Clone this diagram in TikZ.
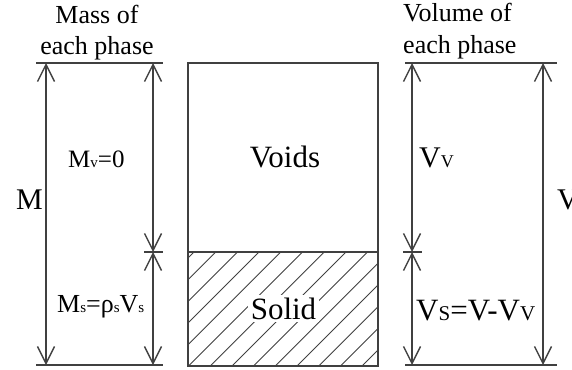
\documentclass[tikz,border=0pt]{standalone}
\usepackage{fontspec}
\setmainfont{Liberation Serif}
\usetikzlibrary{arrows.meta}
\definecolor{lc}{HTML}{404040}
\begin{document}
\begin{tikzpicture}[x=1pt,y=-1pt]
\useasboundingbox (0,0) rectangle (572,369);
\tikzset{
  ln/.style={draw=lc, line width=1.6pt},
  dimln/.style={draw=lc, line width=1.4pt, {Straight Barb[length=17pt,width=17pt]}-{Straight Barb[length=17pt,width=17pt]}},
  hatch/.style={draw=lc, line width=0.9pt},
  lbl/.style={inner sep=0pt, text=black},
  fa/.style={font=\fontsize{26}{30}\selectfont},
  fb/.style={font=\fontsize{31}{36}\selectfont},
}
% ---------- Mass column ----------
\coordinate (mTL) at (36,63);  \coordinate (mTR) at (163,63);
\coordinate (mBL) at (36,365); \coordinate (mBR) at (163,365);
\coordinate (mA1) at (46,63);  \coordinate (mA2) at (46,365);
\coordinate (mB1) at (153,63); \coordinate (mB2) at (153,252); \coordinate (mB3) at (153,365);
\coordinate (mK1) at (144,252); \coordinate (mK2) at (163,252);
\draw[ln] (mTL) -- (mTR);
\draw[ln] (mBL) -- (mBR);
\draw[ln] (mK1) -- (mK2);
\draw[dimln] (mA1) -- (mA2);
\draw[dimln] (mB1) -- (mB2);
\draw[dimln] (mB2) -- (mB3);
\node[lbl, fa, anchor=base] (mt1) at (97,24) {Mass of};
\node[lbl, fa, anchor=base] (mt2) at (97,55) {each phase};
\node[lbl, font=\fontsize{30}{34}\selectfont, anchor=base east] (mM) at (43,209) {M};
\node[lbl, font=\fontsize{25}{30}\selectfont, anchor=base west] (mMv) at (68,167) {M{\fontsize{15}{18}\selectfont v}=0};
\node[lbl, font=\fontsize{26}{30}\selectfont, anchor=base west] (mMs) at (57,312) {M{\fontsize{15}{18}\selectfont s}=ρ{\fontsize{15}{18}\selectfont s}V{\fontsize{15}{18}\selectfont s}};
% ---------- Phase diagram ----------
\coordinate (rTL) at (188,63);  \coordinate (rBR) at (378,366);
\coordinate (rML) at (188,252); \coordinate (rMR) at (378,252);
\begin{scope}
  \clip (rML) rectangle (rBR);
  \foreach \i in {0,...,14} {
    \draw[hatch] (80+\i*21.7,366) -- ++(114,-114);
  }
\end{scope}
\draw[ln, line width=1.8pt] (rTL) rectangle (rBR);
\draw[ln, line width=1.8pt] (rML) -- (rMR);
\node[lbl, fb, anchor=base] (voids) at (285,167) {Voids};
\node[lbl, fb, anchor=base, fill=white, inner sep=2.5pt] (solid) at (283.5,319) {Solid};
% ---------- Volume column ----------
\coordinate (vTL) at (405,63);  \coordinate (vTR) at (557,63);
\coordinate (vBL) at (405,365); \coordinate (vBR) at (557,365);
\coordinate (vA1) at (412,63);  \coordinate (vA2) at (412,252); \coordinate (vA3) at (412,365);
\coordinate (vB1) at (543,63);  \coordinate (vB2) at (543,365);
\coordinate (vK1) at (403,252); \coordinate (vK2) at (422,252);
\draw[ln] (vTL) -- (vTR);
\draw[ln] (vBL) -- (vBR);
\draw[ln] (vK1) -- (vK2);
\draw[dimln] (vA1) -- (vA2);
\draw[dimln] (vA2) -- (vA3);
\draw[dimln] (vB1) -- (vB2);
\node[lbl, fa, anchor=base west] (vt1) at (403,22) {Volume of};
\node[lbl, fa, anchor=base west] (vt2) at (403,53) {each phase};
\node[lbl, font=\fontsize{30}{34}\selectfont, anchor=base west] (vV) at (557,209) {V};
\node[lbl, font=\fontsize{30}{34}\selectfont, anchor=base west] (vVv) at (419,167) {V{\fontsize{18}{20}\selectfont V}};
\node[lbl, font=\fontsize{31}{36}\selectfont, anchor=base west] (vVs) at (416,320) {V{\fontsize{21}{24}\selectfont S}=V-V{\fontsize{21}{24}\selectfont V}};
\end{tikzpicture}
\end{document}
